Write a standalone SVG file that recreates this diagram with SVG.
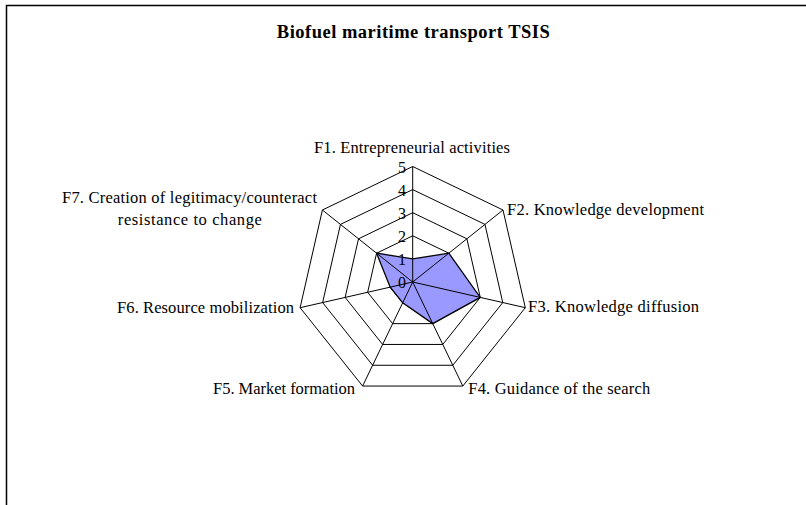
<svg xmlns="http://www.w3.org/2000/svg" width="806" height="505" viewBox="0 0 806 505">
  <style>
    text { font-family: "Liberation Serif", "Times New Roman", serif; fill: #000; }
    .title { font-size: 18.5px; font-weight: bold; }
    .lbl { font-size: 16.5px; }
    .tick { font-size: 16px; text-anchor: end; }
    .ring { fill: none; stroke: #000; stroke-width: 1; }
    .spoke { stroke: #000; stroke-width: 1; }
    .series { fill: #9999FF; stroke: #000; stroke-width: 1.3; stroke-linejoin: miter; }
  </style>
  <rect width="806" height="505" fill="#fff"/>
  <!-- chart frame -->
  <path d="M6.5,506 V5.5 H807" fill="none" stroke="#000" stroke-width="1.5"/>

  <text class="title" x="413.3" y="38" text-anchor="middle" textLength="273" lengthAdjust="spacing">Biofuel maritime transport TSIS</text>

  <!-- grid rings, levels 1..5 -->
  <g id="grid">
    <polygon class="ring" points="412.7,258.9 430.76,267.6 435.22,287.14 422.72,302.81 402.68,302.81 390.18,287.14 394.64,267.6"/>
    <polygon class="ring" points="412.7,235.8 448.82,253.19 457.74,292.28 432.75,323.63 392.65,323.63 367.66,292.28 376.58,253.19"/>
    <polygon class="ring" points="412.7,212.7 466.88,238.79 480.26,297.42 442.77,344.44 382.63,344.44 345.14,297.42 358.52,238.79"/>
    <polygon class="ring" points="412.7,189.6 484.94,224.39 502.78,302.56 452.79,365.25 372.61,365.25 322.62,302.56 340.46,224.39"/>
    <polygon class="ring" points="412.7,166.5 503,210 525.3,307.7 462.8,386.06 362.6,386.06 300.1,307.7 322.4,210"/>
  </g>

  <!-- data series -->
  <g id="series">
    <polygon class="series" points="412.7,258.9 448.82,253.19 480.26,297.42 432.75,323.63 402.68,302.81 390.18,287.14 376.58,253.19"/>
  </g>

  <!-- axis spokes -->
  <g id="connectors">
    <line class="spoke" x1="412.7" y1="282" x2="412.7" y2="166.5"/>
    <line class="spoke" x1="412.7" y1="282" x2="503" y2="210"/>
    <line class="spoke" x1="412.7" y1="282" x2="525.3" y2="307.7"/>
    <line class="spoke" x1="412.7" y1="282" x2="462.8" y2="386.06"/>
    <line class="spoke" x1="412.7" y1="282" x2="362.6" y2="386.06"/>
    <line class="spoke" x1="412.7" y1="282" x2="300.1" y2="307.7"/>
    <line class="spoke" x1="412.7" y1="282" x2="322.4" y2="210"/>
  </g>

  <!-- value scale -->
  <g id="scale">
    <text class="tick" x="406" y="288">0</text>
    <text class="tick" x="406" y="265">1</text>
    <text class="tick" x="406" y="242">2</text>
    <text class="tick" x="406" y="219">3</text>
    <text class="tick" x="406" y="196">4</text>
    <text class="tick" x="406" y="173">5</text>
  </g>

  <!-- category labels -->
  <g id="F1"><text class="lbl" x="412" y="153" text-anchor="middle" textLength="196" lengthAdjust="spacing">F1. Entrepreneurial activities</text></g>
  <g id="F2"><text class="lbl" x="507" y="215" textLength="197" lengthAdjust="spacing">F2. Knowledge development</text></g>
  <g id="F3"><text class="lbl" x="528" y="312" textLength="171" lengthAdjust="spacing">F3. Knowledge diffusion</text></g>
  <g id="F4"><text class="lbl" x="468.3" y="394" textLength="182" lengthAdjust="spacing">F4. Guidance of the search</text></g>
  <g id="F5"><text class="lbl" x="355" y="394" text-anchor="end" textLength="142" lengthAdjust="spacing">F5. Market formation</text></g>
  <g id="F6"><text class="lbl" x="294" y="313" text-anchor="end" textLength="177" lengthAdjust="spacing">F6. Resource mobilization</text></g>
  <g id="F7">
    <text class="lbl" x="189.5" y="203" text-anchor="middle" textLength="255" lengthAdjust="spacing">F7. Creation of legitimacy/counteract</text>
    <text class="lbl" x="189.8" y="225" text-anchor="middle" textLength="144" lengthAdjust="spacing">resistance to change</text>
  </g>
</svg>
